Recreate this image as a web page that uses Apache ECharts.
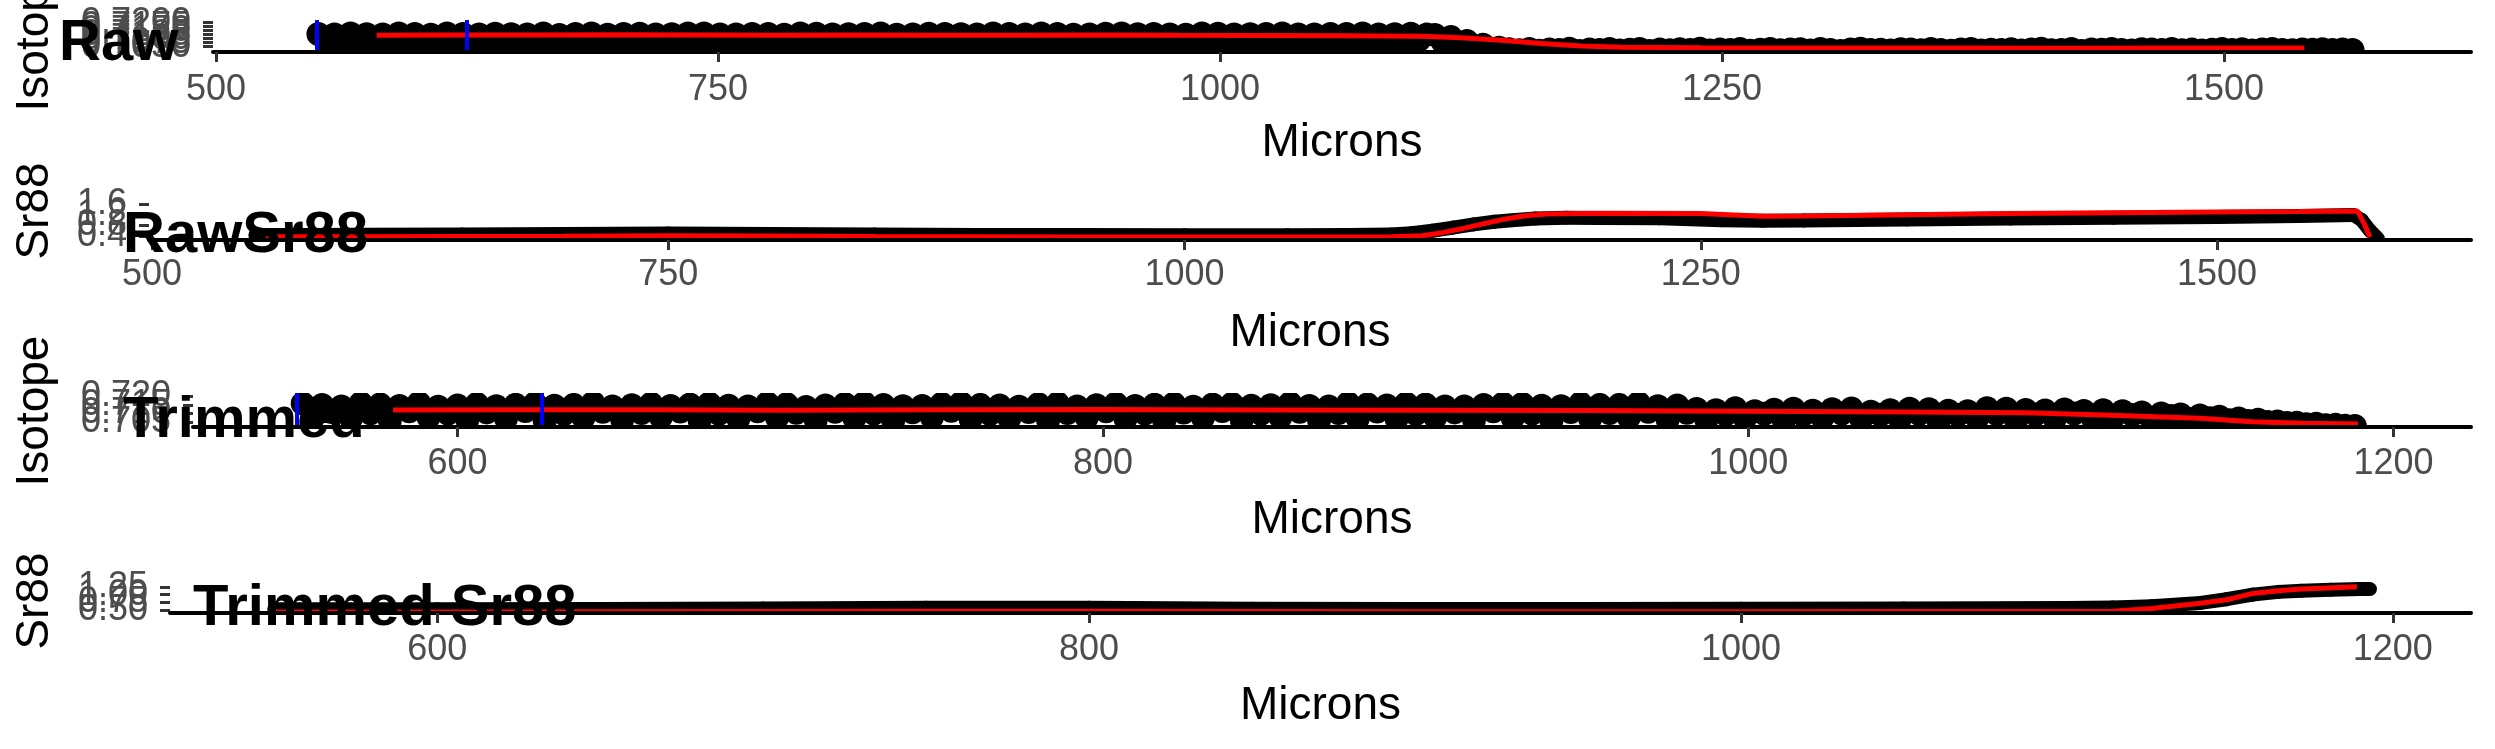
<!DOCTYPE html>
<html><head><meta charset="utf-8">
<script src="https://cdn.jsdelivr.net/npm/echarts@6/dist/echarts.min.js"></script>
<style>html,body{margin:0;padding:0;background:#fff}#c{width:2495px;height:749px}</style>
</head><body><div id="c"></div>
<script>
// ---------- DATA ----------
// Raw isotope ratio: first stretch read every 4 microns from 551
const rawAStart = 551, rawAStep = 4;
const rawIsoA = [
0.7129,0.7091,0.7126,0.7043, 0.7132,0.7085,0.7128,0.7031, 0.7127,0.7095,0.7133,0.7052,
0.7130,0.7088,0.7125,0.7036, 0.7133,0.7082,0.7129,0.7049, 0.7126,0.7093,0.7131,0.7028,
0.7128,0.7086,0.7127,0.7057, 0.7132,0.7097,0.7124,0.7039, 0.7129,0.7084,0.7133,0.7048,
0.7125,0.7092,0.7130,0.7033, 0.7131,0.7087,0.7126,0.7054, 0.7128,0.7096,0.7132,0.7042,
0.7133,0.7081,0.7127,0.7030, 0.7126,0.7090,0.7129,0.7058, 0.7130,0.7094,0.7125,0.7040,
0.7132,0.7085,0.7131,0.7045, 0.7127,0.7093,0.7128,0.7029, 0.7129,0.7088,0.7133,0.7051,
0.7125,0.7096,0.7126,0.7037, 0.7131,0.7083,0.7130,0.7055, 0.7128,0.7091,0.7127,0.7034,
0.7133,0.7086,0.7129,0.7047, 0.7126,0.7095,0.7132,0.7041, 0.7130,0.7089,0.7125,0.7056,
0.7127,0.7084,0.7131,0.7032, 0.7132,0.7092,0.7128,0.7050, 0.7129,0.7087,0.7126,0.7038,
0.7125,0.7097,0.7133,0.7046, 0.7131,0.7082,0.7127,0.7053, 0.7128,0.7090,0.7130,0.7030,
0.7133,0.7094,0.7126,0.7044, 0.7127,0.7085,0.7129,0.7057, 0.7130,0.7093,0.7132,0.7036,
0.7126,0.7088,0.7128,0.7049, 0.7131,0.7091,0.7127,
0.7124,0.7080,0.7110,0.7050,0.7085,0.7038,0.7062,0.7034,0.7044
];
// Raw isotope ratio: second stretch read every 5 microns from 1144
const rawBStart = 1144, rawBStep = 5;
const rawIsoB = [
0.7034,0.7028,0.7036,0.7025,0.7032,0.7030,0.7037,0.7023,0.7033,0.7029,
0.7035,0.7027,0.7031,0.7036,0.7024,0.7032,0.7028,0.7034,0.7030,0.7037,
0.7026,0.7033,0.7029,0.7035,0.7025,0.7031,0.7036,0.7028,0.7032,0.7034,
0.7027,0.7035,0.7030,0.7023,0.7033,0.7037,0.7029,0.7031,0.7026,0.7034,
0.7032,0.7028,0.7036,0.7030,0.7025,0.7033,0.7035,0.7027,0.7031,0.7029,
0.7034,0.7026,0.7032,0.7037,0.7028,0.7030,0.7035,0.7024,0.7033,0.7031,
0.7036,0.7029,0.7027,0.7034,0.7032,0.7030,0.7035,0.7028,0.7033,0.7026,
0.7031,0.7036,0.7029,0.7034,0.7027,0.7032,0.7035,0.7030,0.7028,0.7033,
0.7031,0.7034,0.7029,0.7032,0.7030
];
const rawFitX = [580,620,660,700,740,780,820,860,900,940,980,1020,1060,1100,1120,1140,1160,1180,1200,1240,1300,1360,1420,1480,1540];
const rawFitY = [0.7122,0.7124,0.7123,0.7125,0.7124,0.7122,0.7123,0.7121,0.7122,0.7123,0.7121,0.7120,0.7119,0.7115,0.7106,0.7090,0.7070,0.7054,0.7046,0.7043,0.7042,0.7042,0.7041,0.7042,0.7042];
const rawWindow = [550, 625];

// Raw Sr88
const rawSrX = [550,575,600,650,700,750,800,850,900,950,1000,1050,1080,1100,1110,1120,1130,1140,1150,1160,1170,1185,1200,1230,1260,1280,1300,1350,1400,1450,1500,1540,1566,1570,1574,1578];
const rawSrY = [0.43,0.43,0.44,0.45,0.47,0.49,0.47,0.45,0.43,0.43,0.42,0.42,0.43,0.45,0.50,0.59,0.71,0.83,0.93,1.00,1.05,1.08,1.07,1.06,0.99,0.97,0.98,1.02,1.05,1.08,1.11,1.15,1.19,1.00,0.60,0.28];
const rawSrFitX = [555,600,650,700,750,800,850,900,950,1000,1050,1100,1115,1125,1135,1145,1155,1165,1175,1200,1250,1280,1300,1350,1400,1450,1500,1540,1568,1571,1574];
const rawSrFitY = [0.36,0.36,0.37,0.38,0.40,0.39,0.37,0.36,0.35,0.35,0.35,0.36,0.40,0.52,0.68,0.86,1.03,1.16,1.22,1.25,1.24,1.14,1.15,1.20,1.24,1.27,1.30,1.32,1.34,0.90,0.35];

// Trimmed isotope ratio, read every 3 microns from 552
const trimStart = 552, trimStep = 3;
const trimIso = [
0.7158,0.7066,0.7149,0.7108, 0.7141,0.7073,0.7160,0.7101, 0.7153,0.7058,0.7144,0.7112,
0.7161,0.7077,0.7139,0.7099, 0.7147,0.7062,0.7156,0.7106, 0.7142,0.7070,0.7151,0.7114,
0.7159,0.7056,0.7145,0.7097, 0.7150,0.7075,0.7162,0.7109, 0.7140,0.7064,0.7148,0.7103,
0.7157,0.7079,0.7143,0.7111, 0.7152,0.7059,0.7158,0.7098, 0.7145,0.7068,0.7140,0.7113,
0.7160,0.7074,0.7154,0.7104, 0.7138,0.7061,0.7147,0.7110, 0.7155,0.7071,0.7161,0.7100,
0.7149,0.7057,0.7142,0.7107, 0.7144,0.7078,0.7156,0.7115, 0.7161,0.7065,0.7150,0.7096,
0.7146,0.7072,0.7139,0.7108, 0.7154,0.7060,0.7159,0.7102, 0.7141,0.7076,0.7148,0.7112,
0.7158,0.7067,0.7143,0.7099, 0.7151,0.7055,0.7157,0.7105, 0.7139,0.7074,0.7152,0.7114,
0.7156,0.7063,0.7145,0.7098, 0.7148,0.7079,0.7160,0.7109, 0.7143,0.7058,0.7141,0.7103,
0.7160,0.7070,0.7153,0.7111, 0.7147,0.7066,0.7158,0.7097, 0.7152,0.7077,0.7140,0.7106,
0.7140,0.7061,0.7149,0.7113, 0.7157,0.7073,0.7155,0.7100, 0.7145,0.7057,0.7142,0.7108,
0.7159,0.7069,0.7150,0.7102, 0.7150,0.7078,0.7161,0.7110, 0.7142,0.7064,0.7146,0.7104,
0.7126,0.7062,0.7118,0.7094, 0.7130,0.7071,0.7112,0.7098, 0.7121,0.7058,0.7128,0.7091,
0.7115,0.7074,0.7124,0.7099, 0.7129,0.7065,0.7110,0.7092, 0.7119,0.7069,0.7127,0.7097,
0.7124,0.7056,0.7116,0.7090, 0.7113,0.7073,0.7130,0.7096, 0.7127,0.7060,0.7120,0.7093,
0.7117,0.7068,0.7123,0.7099, 0.7114,0.7063,
0.7118,0.7075,0.7112,0.7090,0.7106,0.7070,0.7100,0.7085,0.7094,0.7066,
0.7088,0.7072,0.7080,0.7060,0.7070,0.7056,0.7062,0.7050,0.7053,0.7044,
0.7045,0.7036,0.7039,0.7031,0.7033,0.7027,0.7026
];
const trimFitX = [580,620,660,700,750,800,850,900,950,1000,1050,1086,1110,1140,1156,1172,1189];
const trimFitY = [0.7120,0.7122,0.7121,0.7119,0.7121,0.7123,0.7120,0.7118,0.7117,0.7113,0.7108,0.7104,0.7091,0.7071,0.7051,0.7042,0.7038];
const trimWindow = [550, 626];

// Trimmed Sr88
const trimSrX = [550,600,650,700,750,800,850,900,950,1000,1050,1100,1114,1126,1141,1149,1157,1165,1172,1181,1190,1193];
const trimSrY = [0.52,0.52,0.53,0.55,0.57,0.57,0.54,0.53,0.53,0.54,0.55,0.56,0.58,0.62,0.73,0.85,1.00,1.09,1.13,1.16,1.18,1.18];
const trimSrFitX = [550,600,650,700,750,800,850,900,950,1000,1050,1100,1114,1126,1141,1149,1157,1165,1172,1180,1189];
const trimSrFitY = [0.43,0.43,0.44,0.45,0.46,0.46,0.45,0.44,0.44,0.44,0.45,0.45,0.46,0.55,0.72,0.83,1.04,1.13,1.18,1.22,1.26];

// Tick labels
const rawTicks = [500,750,1000,1250,1500];
const trimTicks = [600,800,1000,1200];
const isoRawTicks = [0.7050,0.7075,0.7100,0.7125,0.7150,0.7175,0.7200];
const srRawTicks = [0.4,0.8,1.2,1.6];
const isoTrimTicks = [0.705,0.710,0.715,0.720];
const srTrimTicks = [0.50,0.75,1.00,1.25];

// ---------- CHART ----------
const FONT = 'Liberation Sans, Arial, Helvetica, sans-serif';
const DOT_R = 12;
const pairs = (xs, ys) => xs.map((x, i) => [x, ys[i]]);
const seq = (start, step, ys) => ys.map((v, i) => [start + i * step, v]);

const grids = [
  {left: 213, right: 24, top: 20, height: 32},
  {left: 149, right: 24, top: 203, height: 37},
  {left: 193, right: 24, top: 393, height: 34},
  {left: 170, right: 24, top: 581, height: 32}
];
function xAxis(i, min, max, ticks, margin, gap) {
  return {
    type: 'value', gridIndex: i, min: min, max: max,
    name: 'Microns', nameLocation: 'middle', nameGap: gap,
    nameTextStyle: {fontSize: 46, color: '#000', fontFamily: FONT},
    axisLine: {show: true, lineStyle: {color: '#000', width: 4}},
    axisTick: {show: true, length: 10, customValues: ticks, lineStyle: {color: '#333', width: 3}},
    axisLabel: {customValues: ticks, fontSize: 36, color: '#4D4D4D', fontFamily: FONT, margin: margin,
      showMinLabel: true, showMaxLabel: true, formatter: v => String(v)},
    splitLine: {show: false}, z: 5
  };
}
const yAxes = [];
function addY(gi, min, max, ticks, dec) {
  const main = yAxes.length;
  yAxes.push({type: 'value', gridIndex: gi, position: 'left', offset: 0, min: min, max: max,
    axisLine: {show: false}, splitLine: {show: false}, axisLabel: {show: false},
    axisTick: {show: true, length: 10, customValues: ticks, lineStyle: {color: '#333', width: 3}}});
  ticks.forEach(t => yAxes.push({type: 'value', gridIndex: gi, position: 'left', offset: 0, min: min, max: max,
    axisLine: {show: false}, splitLine: {show: false}, axisTick: {show: false},
    axisLabel: {customValues: [t], showMinLabel: true, showMaxLabel: true, fontSize: 36, color: '#4D4D4D',
      fontFamily: FONT, margin: 22, formatter: v => Number(v).toFixed(dec)}}));
  return main;
}
const y0 = addY(0, 0.7017, 0.7217, isoRawTicks, 4);
const y1 = addY(1, 0.24, 1.64, srRawTicks, 1);
const y2 = addY(2, 0.702, 0.722, isoTrimTicks, 3);
const y3 = addY(3, 0.40, 1.445, srTrimTicks, 2);

function dots(xi, yi, data) {
  return {type: 'custom', xAxisIndex: xi, yAxisIndex: yi, clip: true, z: 2, silent: true,
    encode: {x: 0, y: 1},
    renderItem: (params, api) => {
      const p = api.coord([api.value(0), api.value(1)]);
      return {type: 'circle', shape: {cx: p[0], cy: p[1], r: DOT_R}, style: {fill: '#000'}};
    },
    data: data};
}
function band(xi, yi, xs, ys, w) {
  const segs = xs.slice(0, -1).map((x, i) => [x, ys[i], xs[i + 1], ys[i + 1]]);
  return {type: 'custom', xAxisIndex: xi, yAxisIndex: yi, clip: true, z: 2, silent: true,
    encode: {x: [0, 2], y: [1, 3]},
    renderItem: (params, api) => {
      const a = api.coord([api.value(0), api.value(1)]);
      const b = api.coord([api.value(2), api.value(3)]);
      return {type: 'line', shape: {x1: a[0], y1: a[1], x2: b[0], y2: b[1]},
        style: {stroke: '#000', lineWidth: w, lineCap: 'round'}};
    },
    data: segs};
}
function red(xi, yi, xs, ys, extra) {
  return Object.assign({type: 'line', xAxisIndex: xi, yAxisIndex: yi, showSymbol: false, z: 3, silent: true,
    lineStyle: {color: '#FF0000', width: 5}, data: pairs(xs, ys)}, extra || {});
}
function blueLines(xs) {
  return {silent: true, symbol: 'none', label: {show: false},
    lineStyle: {color: '#0000FF', width: 4, type: 'solid', opacity: 1},
    data: xs.map(x => ({xAxis: x}))};
}

const titleStyle = t => ({text: t, font: 'bold 58px ' + FONT, fill: '#000', verticalAlign: 'middle'});
const yNameStyle = t => ({text: t, font: '46px ' + FONT, fill: '#000', align: 'center', verticalAlign: 'middle'});

const option = {
  animation: false,
  backgroundColor: '#fff',
  grid: grids,
  xAxis: [
    xAxis(0, 498.5, 1623, rawTicks, 20, 68),
    xAxis(1, 498.5, 1623, rawTicks, 17, 70),
    xAxis(2, 518, 1224, trimTicks, 19, 70),
    xAxis(3, 518, 1224, trimTicks, 19, 70)
  ],
  yAxis: yAxes,
  series: [
    dots(0, y0, seq(rawAStart, rawAStep, rawIsoA).concat(seq(rawBStart, rawBStep, rawIsoB))),
    red(0, y0, rawFitX, rawFitY, {markLine: blueLines(rawWindow)}),
    band(1, y1, rawSrX, rawSrY, 14),
    red(1, y1, rawSrFitX, rawSrFitY),
    dots(2, y2, seq(trimStart, trimStep, trimIso)),
    red(2, y2, trimFitX, trimFitY, {markLine: blueLines(trimWindow)}),
    band(3, y3, trimSrX, trimSrY, 14),
    red(3, y3, trimSrFitX, trimSrFitY)
  ],
  graphic: [
    {type: 'text', x: 59, y: 44, z: 100, style: titleStyle('Raw')},
    {type: 'text', x: 123, y: 236, z: 100, style: titleStyle('RawSr88')},
    {type: 'text', x: 123, y: 421, z: 100, style: titleStyle('Trimmed')},
    {type: 'text', x: 193, y: 609, z: 100, style: titleStyle('Trimmed Sr88')},
    {type: 'text', x: 35, y: 36, rotation: Math.PI / 2, z: 50, style: yNameStyle('Isotope')},
    {type: 'text', x: 35, y: 211, rotation: Math.PI / 2, z: 50, style: yNameStyle('Sr88')},
    {type: 'text', x: 35, y: 411, rotation: Math.PI / 2, z: 50, style: yNameStyle('Isotope')},
    {type: 'text', x: 35, y: 601, rotation: Math.PI / 2, z: 50, style: yNameStyle('Sr88')}
  ]
};
const chart = echarts.init(document.getElementById('c'), null, {renderer: 'canvas'});
chart.setOption(option);
</script></body></html>
